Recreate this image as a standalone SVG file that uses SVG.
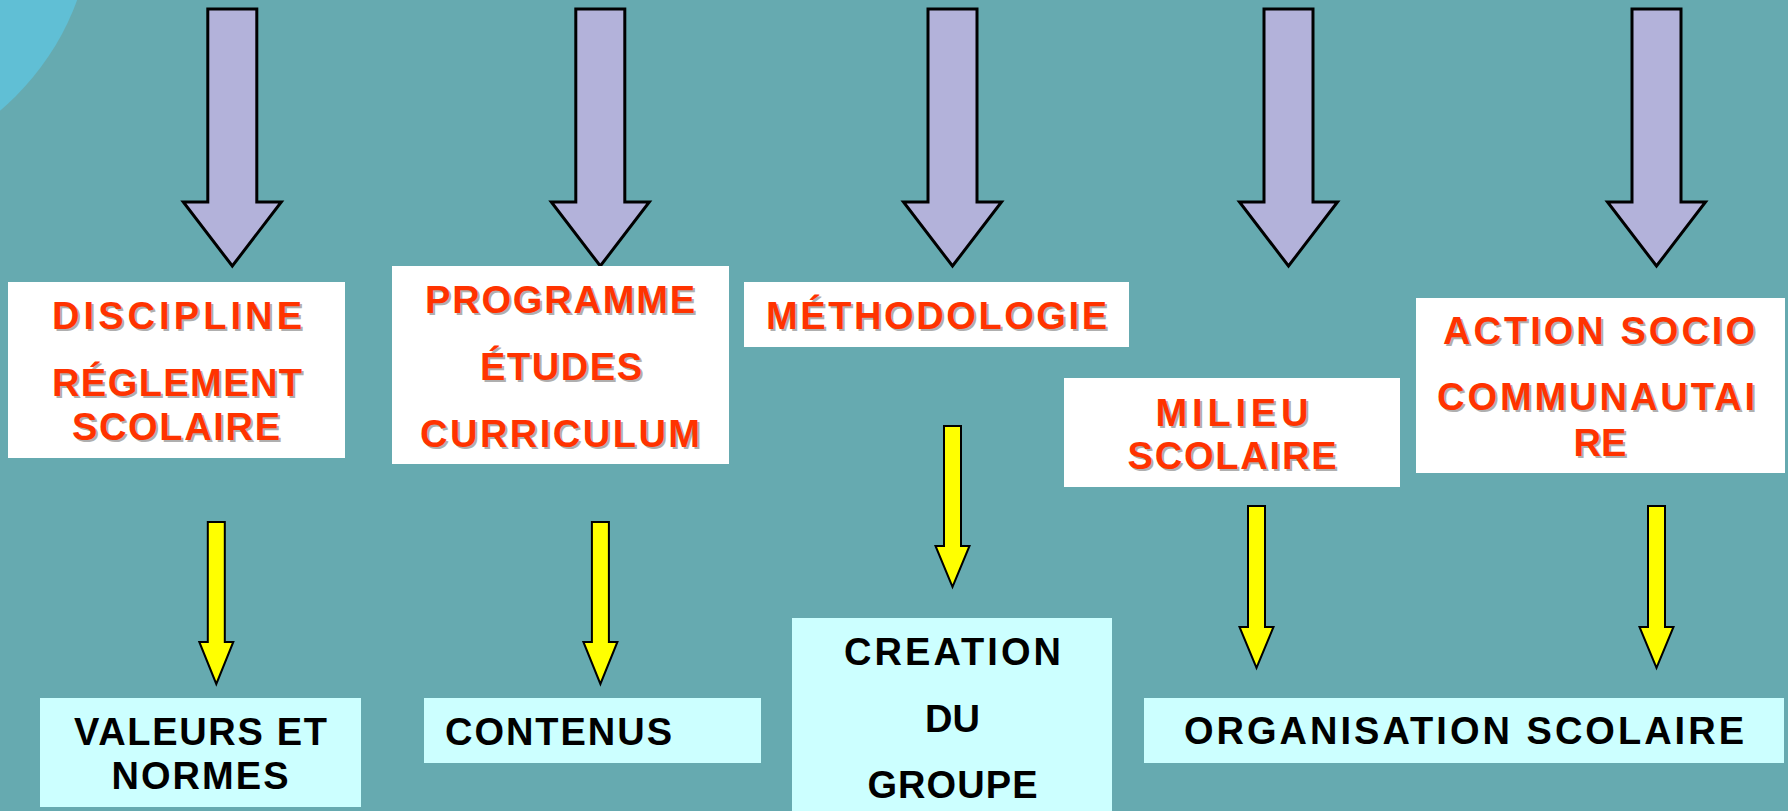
<svg xmlns="http://www.w3.org/2000/svg" xmlns:xlink="http://www.w3.org/1999/xlink" width="1788" height="811" viewBox="0 0 1788 811">
  <style>
    .bg { fill: #66AAB0; }
    .deco { fill: #60BFD5; }
    .topbox { fill: #FFFFFF; }
    .botbox { fill: #CCFFFF; }
    text { font-family: "Liberation Sans", Arial, sans-serif; font-weight: bold; font-size: 38px; }
    .red { fill: #FF3300; text-anchor: middle; }
    .shadow { fill: #AFAFAF; text-anchor: middle; }
    .blk { fill: #000000; text-anchor: middle; }
    .big { fill: #B3B2DA; stroke: #000000; stroke-width: 3; stroke-linejoin: miter; }
    .small { fill: #FFFF00; stroke: #000000; stroke-width: 2; stroke-linejoin: miter; }
  </style>
  <defs>
    <path id="bigArrow" d="M -24.5 9 L 24.5 9 L 24.5 202 L 49 202 L 0 266 L -49 202 L -24.5 202 Z"/>
    <path id="yA" d="M -8.5 522 L 8.5 522 L 8.5 642 L 17 642 L 0 684 L -17 642 L -8.5 642 Z"/>
    <path id="yB" d="M -8.5 426 L 8.5 426 L 8.5 546 L 17 546 L 0 587 L -17 546 L -8.5 546 Z"/>
    <path id="yC" d="M -8.5 506 L 8.5 506 L 8.5 627 L 17 627 L 0 668 L -17 627 L -8.5 627 Z"/>
  </defs>

  <rect class="bg" x="0" y="0" width="1788" height="811"/>
  <circle class="deco" cx="-170" cy="-90" r="263"/>

  <g id="connectors">
    <use xlink:href="#bigArrow" href="#bigArrow" class="big" x="232.3" y="0"/>
    <use xlink:href="#bigArrow" href="#bigArrow" class="big" x="600.3" y="0"/>
    <use xlink:href="#bigArrow" href="#bigArrow" class="big" x="952.5" y="0"/>
    <use xlink:href="#bigArrow" href="#bigArrow" class="big" x="1288.5" y="0"/>
    <use xlink:href="#bigArrow" href="#bigArrow" class="big" x="1656.5" y="0"/>
    <use xlink:href="#yA" href="#yA" class="small" x="216.3" y="0"/>
    <use xlink:href="#yA" href="#yA" class="small" x="600.4" y="0"/>
    <use xlink:href="#yB" href="#yB" class="small" x="952.5" y="0"/>
    <use xlink:href="#yC" href="#yC" class="small" x="1256.5" y="0"/>
    <use xlink:href="#yC" href="#yC" class="small" x="1656.5" y="0"/>
  </g>

  <g id="node-discipline">
    <rect class="topbox" x="8" y="282" width="337" height="176"/>
    <text class="shadow" x="179" y="331" textLength="250" lengthAdjust="spacing">DISCIPLINE</text>
    <text class="red" x="177" y="329" textLength="250" lengthAdjust="spacing">DISCIPLINE</text>
    <text class="shadow" x="179" y="398" textLength="250" lengthAdjust="spacing">RÉGLEMENT</text>
    <text class="red" x="177" y="396" textLength="250" lengthAdjust="spacing">RÉGLEMENT</text>
    <text class="shadow" x="178" y="442" textLength="208" lengthAdjust="spacing">SCOLAIRE</text>
    <text class="red" x="176" y="440" textLength="208" lengthAdjust="spacing">SCOLAIRE</text>
  </g>

  <g id="node-programme">
    <rect class="topbox" x="392" y="266" width="337" height="198"/>
    <text class="shadow" x="562" y="315" textLength="270" lengthAdjust="spacing">PROGRAMME</text>
    <text class="red" x="560" y="313" textLength="270" lengthAdjust="spacing">PROGRAMME</text>
    <text class="shadow" x="563" y="382" textLength="162" lengthAdjust="spacing">ÉTUDES</text>
    <text class="red" x="561" y="380" textLength="162" lengthAdjust="spacing">ÉTUDES</text>
    <text class="shadow" x="562" y="449" textLength="280" lengthAdjust="spacing">CURRICULUM</text>
    <text class="red" x="560" y="447" textLength="280" lengthAdjust="spacing">CURRICULUM</text>
  </g>

  <g id="node-methodologie">
    <rect class="topbox" x="744" y="282" width="385" height="65"/>
    <text class="shadow" x="938.5" y="331" textLength="341" lengthAdjust="spacing">MÉTHODOLOGIE</text>
    <text class="red" x="936.5" y="329" textLength="341" lengthAdjust="spacing">MÉTHODOLOGIE</text>
  </g>

  <g id="node-milieu">
    <rect class="topbox" x="1064" y="378" width="336" height="109"/>
    <text class="shadow" x="1234" y="428" textLength="153" lengthAdjust="spacing">MILIEU</text>
    <text class="red" x="1232" y="426" textLength="153" lengthAdjust="spacing">MILIEU</text>
    <text class="shadow" x="1234" y="471" textLength="209" lengthAdjust="spacing">SCOLAIRE</text>
    <text class="red" x="1232" y="469" textLength="209" lengthAdjust="spacing">SCOLAIRE</text>
  </g>

  <g id="node-action">
    <rect class="topbox" x="1416" y="298" width="369" height="175"/>
    <text class="shadow" x="1601" y="346" textLength="312" lengthAdjust="spacing">ACTION SOCIO</text>
    <text class="red" x="1599" y="344" textLength="312" lengthAdjust="spacing">ACTION SOCIO</text>
    <text class="shadow" x="1598" y="412" textLength="318" lengthAdjust="spacing">COMMUNAUTAI</text>
    <text class="red" x="1596" y="410" textLength="318" lengthAdjust="spacing">COMMUNAUTAI</text>
    <text class="shadow" x="1602" y="458">RE</text>
    <text class="red" x="1600" y="456">RE</text>
  </g>

  <g id="node-valeurs">
    <rect class="botbox" x="40" y="698" width="321" height="109"/>
    <text class="blk" x="200.5" y="745" textLength="253" lengthAdjust="spacing">VALEURS ET</text>
    <text class="blk" x="200" y="789" textLength="177" lengthAdjust="spacing">NORMES</text>
  </g>

  <g id="node-contenus">
    <rect class="botbox" x="424" y="698" width="337" height="65"/>
    <text class="blk" x="558.5" y="745" textLength="227" lengthAdjust="spacing">CONTENUS</text>
  </g>

  <g id="node-creation">
    <rect class="botbox" x="792" y="618" width="320" height="193"/>
    <text class="blk" x="952.5" y="665" textLength="217" lengthAdjust="spacing">CREATION</text>
    <text class="blk" x="952.5" y="732">DU</text>
    <text class="blk" x="952.5" y="798" textLength="170" lengthAdjust="spacing">GROUPE</text>
  </g>

  <g id="node-organisation">
    <rect class="botbox" x="1144" y="698" width="640" height="65"/>
    <text class="blk" x="1464" y="744" textLength="560" lengthAdjust="spacing">ORGANISATION SCOLAIRE</text>
  </g>
</svg>
